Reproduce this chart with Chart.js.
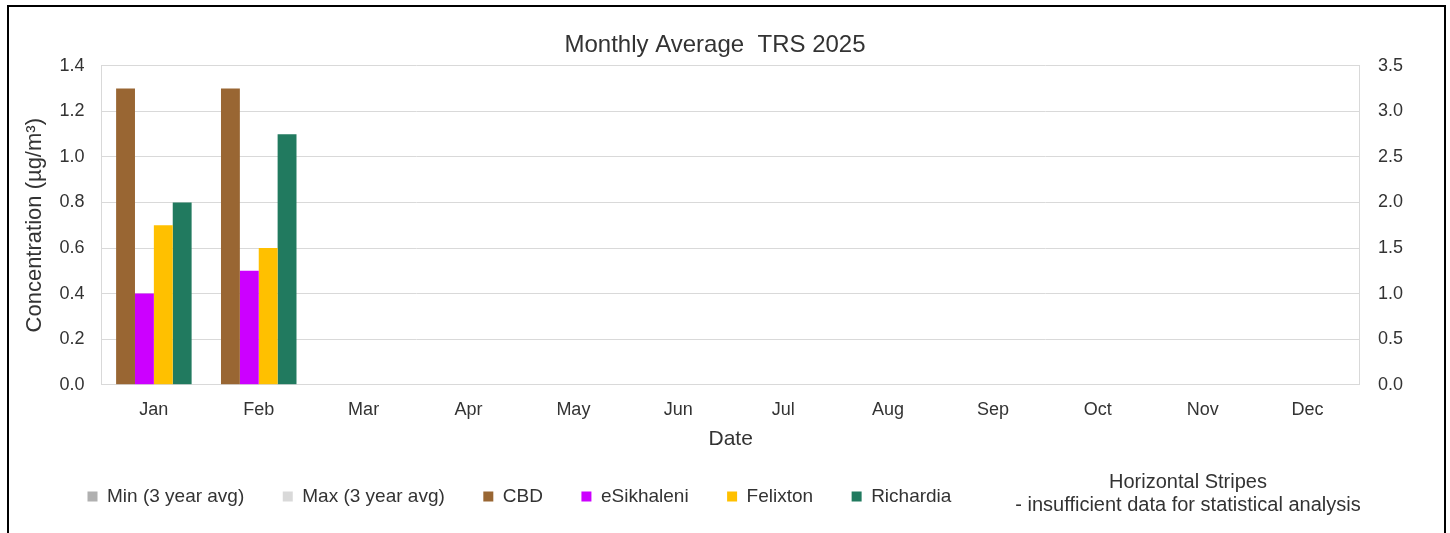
<!DOCTYPE html>
<html lang="en">
<head>
<meta charset="UTF-8">
<title>Monthly Average TRS 2025</title>
<script src="https://cdn.jsdelivr.net/npm/chart.js"></script>
<style>
  body { margin: 0; background: #fff; }
  /* black frame round the chart, open at the bottom */
  #frame { position: absolute; left: 7px; top: 5px; width: 1435px; height: 540px;
           border: 2px solid #000; border-bottom: none; }
  #box { position: relative; width: 1435px; height: 526px; }
</style>
</head>
<body>
<div id="frame">
  <div id="box"><canvas id="trsChart"></canvas></div>
</div>

<script>
  // data (µg/m³)
  const months = ['Jan','Feb','Mar','Apr','May','Jun','Jul','Aug','Sep','Oct','Nov','Dec'];
  const minAvg = [];
  const maxAvg = [];
  const cbd = [1.3, 1.3];
  const esikhaleni = [0.4, 0.5];
  const felixton = [0.7, 0.6];
  const richardia = [0.8, 1.1];
  const noteLines = ['Horizontal Stripes', '- insufficient data for statistical analysis'];

  const textCol = '#333333';
  const gridCol = '#d9d9d9';
  const family = "'Liberation Sans', Arial, sans-serif";

  // legend sits further right than chart.js would put it
  const legendShift = {
    id: 'legendShift',
    afterLayout(chart) {
      chart.legend.left += 40;
      chart.legend.right += 40;
    }
  };

  // the note to the right of the legend
  const stripesNote = {
    id: 'stripesNote',
    afterDraw(chart) {
      const ctx = chart.ctx;
      const x = chart.chartArea.right - 172;
      const y = chart.legend.top + 34;
      ctx.save();
      ctx.font = '20px ' + family;
      ctx.fillStyle = textCol;
      ctx.textAlign = 'center';
      ctx.textBaseline = 'middle';
      ctx.fillText(noteLines[0], x, y);
      ctx.fillText(noteLines[1], x, y + 23);
      ctx.restore();
    }
  };

  const data = {
    labels: months,
    datasets: [
      { label: 'Min (3 year avg)', data: minAvg, backgroundColor: '#b0b0b0', grouped: false, yAxisID: 'y1' },
      { label: 'Max (3 year avg)', data: maxAvg, backgroundColor: '#d9d9d9', grouped: false, yAxisID: 'y1' },
      { label: 'CBD', data: cbd, backgroundColor: '#996633' },
      { label: 'eSikhaleni', data: esikhaleni, backgroundColor: '#cc00ff' },
      { label: 'Felixton', data: felixton, backgroundColor: '#ffc000' },
      { label: 'Richardia', data: richardia, backgroundColor: '#217a5f' }
    ]
  };

  const config = {
    type: 'bar',
    data: data,
    plugins: [legendShift, stripesNote],
    options: {
      responsive: true,
      maintainAspectRatio: false,
      animation: false,
      layout: { padding: { left: 0, right: 23, top: 0, bottom: 17 } },
      datasets: {
        bar: { categoryPercentage: 0.72, barPercentage: 1, borderWidth: 0 }
      },
      plugins: {
        title: {
          display: true,
          text: 'Monthly Average  TRS 2025',
          color: textCol,
          font: { family: family, size: 24, weight: 'normal' },
          padding: { top: 24, bottom: 6 }
        },
        legend: {
          position: 'bottom',
          align: 'start',
          labels: {
            color: textCol,
            font: { family: family, size: 19 },
            boxWidth: 10,
            boxHeight: 10,
            padding: 38.5
          }
        },
        tooltip: { enabled: false }
      },
      scales: {
        x: {
          grid: { display: false, drawTicks: false },
          border: { color: gridCol },
          ticks: { color: textCol, padding: 15, font: { family: family, size: 18 } },
          title: {
            display: true, text: 'Date', color: textCol,
            font: { family: family, size: 21 },
            padding: { top: -10, bottom: -3 }
          }
        },
        y: {
          position: 'left',
          min: 0, max: 1.4,
          grid: { color: gridCol, drawTicks: false },
          border: { color: gridCol },
          ticks: {
            stepSize: 0.2, padding: 17, color: textCol,
            font: { family: family, size: 18 },
            callback: function (value) { return value.toFixed(1); }
          },
          title: {
            display: true, text: 'Concentration (µg/m³)', color: textCol,
            font: { family: family, size: 22 },
            padding: { top: 13, bottom: -6 }
          }
        },
        y1: {
          position: 'right',
          display: true,
          min: 0, max: 3.5,
          grid: { drawOnChartArea: false, drawTicks: false },
          border: { color: gridCol },
          ticks: {
            stepSize: 0.5, padding: 18, color: textCol,
            font: { family: family, size: 18 },
            callback: function (value) { return value.toFixed(1); }
          }
        }
      }
    }
  };

  const trsChart = new Chart(document.getElementById('trsChart'), config);
</script>
</body>
</html>
